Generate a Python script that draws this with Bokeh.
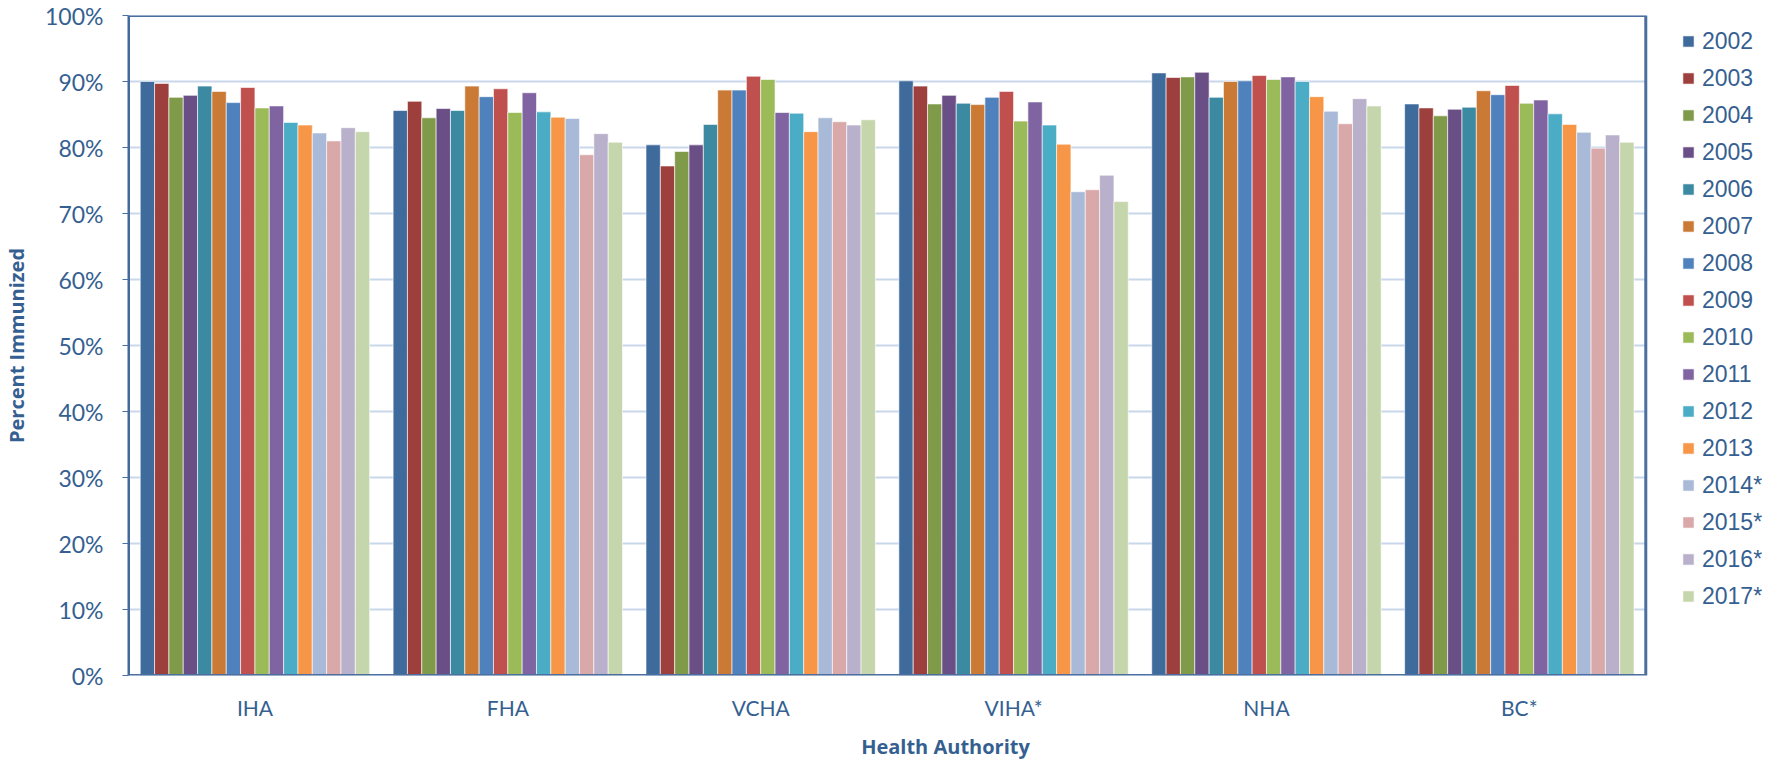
from bokeh.plotting import figure
from bokeh.models import (ColumnDataSource, Range1d, Legend, LegendItem,
                          PrintfTickFormatter, FixedTicker)
from bokeh.transform import dodge
from bokeh.embed import file_html
from bokeh.resources import INLINE

authorities = ["IHA", "FHA", "VCHA", "VIHA*", "NHA", "BC*"]
years = ["2002", "2003", "2004", "2005", "2006", "2007", "2008", "2009",
         "2010", "2011", "2012", "2013", "2014*", "2015*", "2016*", "2017*"]

v2002 = [90.0, 85.6, 80.4, 90.1, 91.3, 86.6]
v2003 = [89.7, 87.0, 77.2, 89.3, 90.6, 86.0]
v2004 = [87.6, 84.5, 79.4, 86.6, 90.7, 84.8]
v2005 = [87.9, 85.9, 80.4, 87.9, 91.4, 85.8]
v2006 = [89.3, 85.6, 83.5, 86.7, 87.6, 86.1]
v2007 = [88.5, 89.3, 88.7, 86.5, 90.0, 88.6]
v2008 = [86.8, 87.7, 88.7, 87.6, 90.1, 88.0]
v2009 = [89.1, 88.9, 90.8, 88.5, 90.9, 89.4]
v2010 = [86.0, 85.3, 90.3, 84.0, 90.3, 86.7]
v2011 = [86.3, 88.3, 85.3, 86.9, 90.7, 87.2]
v2012 = [83.8, 85.4, 85.2, 83.4, 90.0, 85.1]
v2013 = [83.4, 84.6, 82.4, 80.5, 87.7, 83.5]
v2014 = [82.2, 84.4, 84.5, 73.3, 85.5, 82.3]
v2015 = [81.0, 78.9, 83.9, 73.6, 83.6, 79.9]
v2016 = [83.0, 82.1, 83.4, 75.8, 87.4, 81.9]
v2017 = [82.4, 80.8, 84.2, 71.8, 86.3, 80.8]

series = [v2002, v2003, v2004, v2005, v2006, v2007, v2008, v2009,
          v2010, v2011, v2012, v2013, v2014, v2015, v2016, v2017]

colors = ["#3F6A9C", "#9C3F3D", "#7F9A49", "#6A4F87", "#3B8AA1", "#CB7A36",
          "#4F81BD", "#C0504D", "#9BBB59", "#8064A2", "#4BACC6", "#F79646",
          "#A9B9D8", "#D9A8A8", "#B9B0CB", "#C6D6AC"]

y_ticks = [0, 10, 20, 30, 40, 50, 60, 70, 80, 90, 100]

TXT = "#365F91"
BORDER = "#4A6FA0"

n = len(authorities)
centers = [i + 0.5 for i in range(n)]

data = {"xc": centers}
for y, s in zip(years, series):
    data[y] = s
source = ColumnDataSource(data)

W, H = 1762, 762
LEFT = 124
PLOT_W = 1521  # width of the plotting area holding the bars
x_end = n * (W - LEFT) / PLOT_W   # extra room on the right of the frame for the legend

p = figure(x_range=Range1d(0, x_end), y_range=Range1d(0, 100),
           width=W, height=H, output_backend="svg", toolbar_location=None,
           min_border_left=LEFT, min_border_right=0, min_border_top=15, min_border_bottom=87)
p.outline_line_color = None
p.xgrid.grid_line_color = None
p.ygrid.grid_line_color = None

# horizontal gridlines limited to the plot area
p.segment(x0=0, x1=n, y0=y_ticks[1:], y1=y_ticks[1:], line_color="#C9D7EA", line_width=2)

bw = 0.0567
items = []
for i, (y, c) in enumerate(zip(years, colors)):
    r = p.vbar(x=dodge("xc", (i - 7.5) * bw), top=y, width=bw,
               source=source, fill_color=c, line_color="#FFFFFF", line_alpha=0.6, line_width=1)
    items.append(LegendItem(label=y, renderers=[r]))

# plot-area border
p.quad(left=0, right=n, bottom=0, top=100, fill_color=None, line_color=BORDER, line_width=3)

legend = Legend(items=items, location=(1553, 64), orientation="vertical",
                padding=0, margin=0, spacing=7, glyph_width=14, glyph_height=14,
                label_height=30, label_standoff=7,
                label_text_font="Liberation Sans", label_text_font_size="23px",
                label_text_color=TXT, border_line_color=None, background_fill_alpha=0)
p.add_layout(legend, "center")

yax = p.yaxis[0]
yax.ticker = FixedTicker(ticks=y_ticks)
yax.formatter = PrintfTickFormatter(format="%d%%")
yax.major_label_text_font = "Lato"
yax.major_label_text_font_size = "23px"
yax.major_label_text_color = TXT
yax.major_tick_out = 6
yax.major_tick_in = 0
yax.minor_tick_out = 0
yax.minor_tick_in = 0
yax.major_tick_line_color = BORDER
yax.axis_line_color = "#3F6A9C"
yax.axis_line_width = 2
yax.major_label_standoff = 19
yax.axis_label = "Percent Immunized"
yax.axis_label_text_font = "Open Sans"
yax.axis_label_text_font_style = "bold"
yax.axis_label_text_font_size = "20px"
yax.axis_label_text_color = TXT
yax.axis_label_standoff = 12

xax = p.xaxis[0]
xax.ticker = FixedTicker(ticks=centers, minor_ticks=[])
xax.major_label_overrides = {c: a for c, a in zip(centers, authorities)}
xax.major_label_text_font = "Lato"
xax.major_label_text_font_size = "21px"
xax.major_label_text_color = TXT
xax.major_tick_out = 0
xax.major_tick_in = 0
xax.minor_tick_out = 0
xax.minor_tick_in = 0
xax.axis_line_color = None
xax.major_label_standoff = 19
xax.axis_label = "Health Authority"
xax.axis_label_text_font = "Open Sans"
xax.axis_label_text_font_style = "bold"
xax.axis_label_text_font_size = "20px"
xax.axis_label_text_color = TXT
xax.axis_label_standoff = 10

open("out.html", "w").write(file_html(p, INLINE))
